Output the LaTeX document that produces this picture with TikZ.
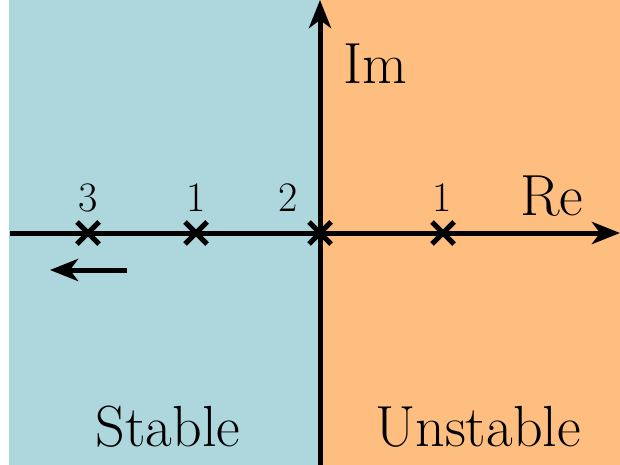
\documentclass[tikz,border=0pt]{standalone}
\usetikzlibrary{arrows.meta}
\definecolor{stabblue}{HTML}{AED7DD}
\definecolor{unstorange}{HTML}{FDBE80}
\begin{document}
\begin{tikzpicture}[x=1pt,y=-1pt,
  axis/.style={line width=5pt,-{Stealth[length=28pt,width=22pt,inset=8pt]}},
  polemark/.style={line width=5pt},
  lbl/.style={font=\fontsize{58}{64}\selectfont,inner sep=0pt},
  numlbl/.style={font=\fontsize{42}{48}\selectfont,inner sep=0pt}]
\useasboundingbox (0,0) rectangle (620,465);
\fill[stabblue] (9,0) rectangle (320,465);
\fill[unstorange] (320,0) rectangle (620,465);
\coordinate (xl) at (10,233);
\coordinate (xr) at (620,233);
\coordinate (yb) at (320,465);
\coordinate (yt) at (320,0);
\draw[axis] (xl) -- (xr);
\draw[axis] (yb) -- (yt);
\foreach \n/\x in {p3/88,p1/196,p2/320,p4/443}{
  \coordinate (\n) at (\x,233);
  \draw[polemark] ([shift={(-11,-11)}]\n) -- ([shift={(11,11)}]\n);
  \draw[polemark] ([shift={(-11,11)}]\n) -- ([shift={(11,-11)}]\n);
}
\node[numlbl] (l3) at (88,198) {3};
\node[numlbl] (l1) at (196,198) {1};
\node[numlbl] (l2) at (288,198) {2};
\node[numlbl] (l4) at (442,198) {1};
\node[lbl] (im) at (375,64) {Im};
\node[lbl] (re) at (552,196) {Re};
\node[lbl] (st) at (168,427) {Stable};
\node[lbl] (un) at (478,427) {Unstable};
\coordinate (as) at (127,270);
\coordinate (ae) at (50,270);
\draw[axis] (as) -- (ae);
\end{tikzpicture}
\end{document}
